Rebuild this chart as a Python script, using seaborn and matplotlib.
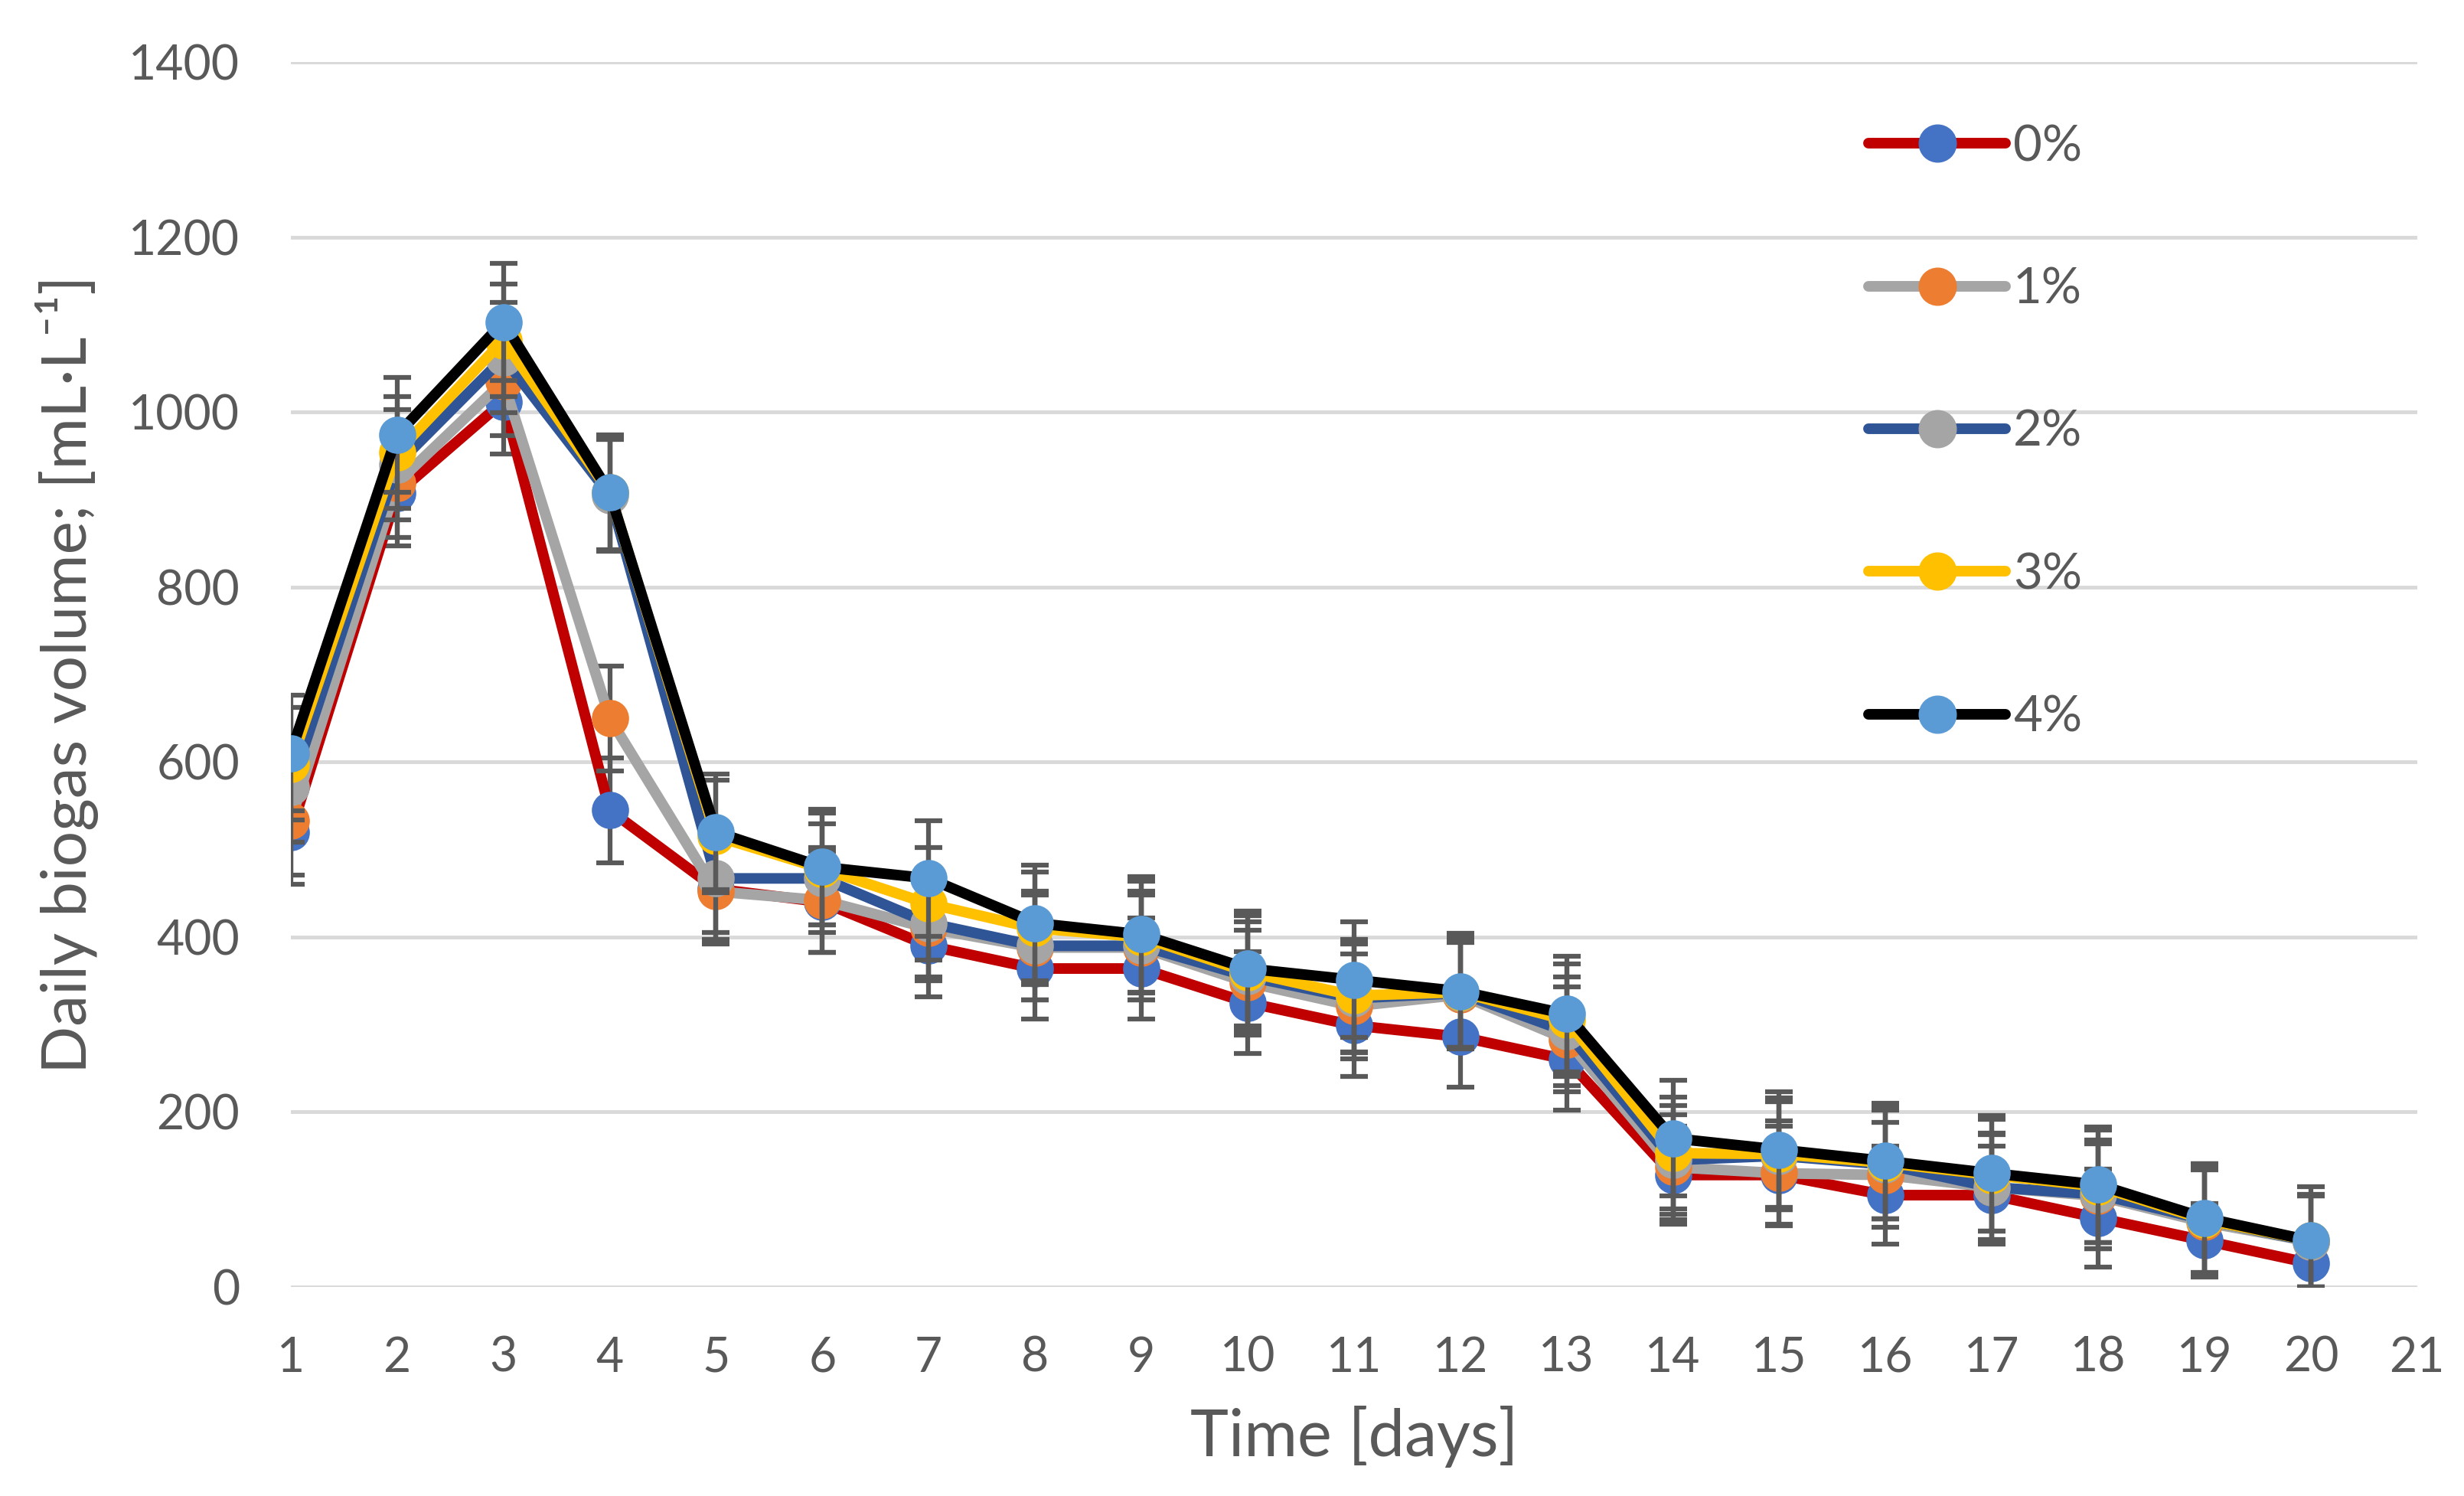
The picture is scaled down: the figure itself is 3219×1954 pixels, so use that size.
import numpy as np
import matplotlib
matplotlib.use("Agg")
import matplotlib.pyplot as plt
from matplotlib.lines import Line2D
import seaborn as sns

days = list(range(1, 21))
labels = ["0%", "1%", "2%", "3%", "4%"]

# daily biogas volume, mL/L
v0 = [520, 907, 1012, 545, 455, 440, 390, 364, 364, 325, 299, 286, 260, 128, 128, 105, 105, 79, 53, 27]
v1 = [533, 919, 1035, 650, 452, 442, 410, 388, 388, 348, 321, 334, 283, 137, 130, 128, 114, 104, 74, 52]
v2 = [571, 940, 1062, 905, 467, 467, 416, 390, 390, 355, 330, 336, 292, 145, 150, 140, 114, 106, 77, 52]
v3 = [598, 954, 1082, 908, 515, 478, 438, 410, 400, 360, 333, 337, 305, 153, 152, 142, 128, 115, 77, 53]
v4 = [610, 974, 1103, 908, 520, 480, 467, 416, 403, 364, 351, 338, 312, 170, 157, 144, 130, 117, 79, 53]

# standard deviations
e0 = [60, 60, 60, 60, 58, 58, 58, 58, 58, 58, 58, 58, 58, 56, 56, 56, 56, 56, 42, 27]
e1 = [62, 62, 62, 60, 60, 60, 60, 60, 60, 60, 60, 60, 60, 60, 60, 60, 60, 60, 60, 52]
e2 = [63, 63, 63, 64, 62, 62, 62, 62, 62, 62, 62, 62, 62, 62, 62, 62, 62, 62, 62, 52]
e3 = [64, 64, 64, 65, 64, 64, 64, 64, 64, 64, 64, 64, 64, 64, 64, 64, 64, 64, 64, 53]
e4 = [66, 66, 67, 66, 66, 66, 66, 66, 66, 66, 66, 66, 66, 66, 66, 66, 66, 66, 62, 62]

values = [v0, v1, v2, v3, v4]
errors = [e0, e1, e2, e3, e4]
line_colors = ["#C00000", "#A5A5A5", "#2F5597", "#FFC000", "#000000"]
marker_colors = ["#4472C4", "#ED7D31", "#A5A5A5", "#FFC000", "#5B9BD5"]

sns.set_theme(style="white")
plt.rcParams["font.family"] = ["Lato", "DejaVu Sans"]
txt = "#595959"

fig = plt.figure(figsize=(32.19, 19.54), dpi=100)
ax = fig.add_axes([0.118, 0.1397, 0.863, 0.8188])

for i in range(5):
    ax.errorbar(days, values[i], yerr=errors[i], fmt="none", ecolor=txt,
                elinewidth=4.5, capsize=13, capthick=4.5, zorder=2 + i * 2)
for i in range(5):
    sns.lineplot(x=days, y=values[i], ax=ax, color=line_colors[i], linewidth=10,
                 marker="o", markersize=35, markerfacecolor=marker_colors[i],
                 markeredgecolor=marker_colors[i], markeredgewidth=0,
                 zorder=3 + i * 2, solid_capstyle="round")

ax.set_xlim(1, 21)
ax.set_ylim(0, 1400)
ax.set_xticks(range(1, 22))
ax.set_yticks(range(0, 1401, 200))
ax.yaxis.grid(True, color="#D9D9D9", linewidth=3.5)
ax.set_axisbelow(True)
for s in ax.spines.values():
    s.set_visible(False)
ax.tick_params(axis="both", length=0, labelsize=45, labelcolor=txt)
ax.tick_params(axis="y", pad=48)
ax.tick_params(axis="x", pad=46)
ax.set_xlabel("Time [days]", fontsize=61, color=txt, labelpad=24)
ax.set_ylabel("Daily biogas volume; [mL·L⁻¹]", fontsize=59, color=txt, labelpad=28)

handles = [Line2D([0], [0], color=line_colors[i], linewidth=10, marker="o",
                  markersize=35, markerfacecolor=marker_colors[i],
                  markeredgecolor=marker_colors[i], solid_capstyle="round")
           for i in range(5)]
leg = ax.legend(handles, labels, loc="upper left", bbox_to_anchor=(0.740, 0.947),
                bbox_transform=fig.transFigure, frameon=False, fontsize=47,
                handlelength=2.75, handletextpad=0.15, labelspacing=1.95)
for t in leg.get_texts():
    t.set_color(txt)

fig.savefig("out.png", dpi=100)
